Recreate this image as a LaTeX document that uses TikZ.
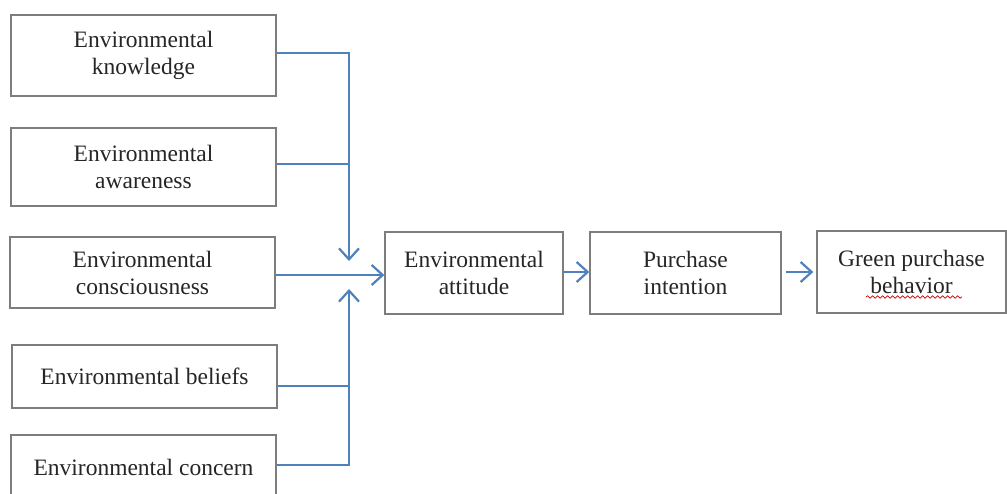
\documentclass[tikz,border=0pt]{standalone}
\usepackage{fontspec}
\setmainfont{Liberation Serif}
\usetikzlibrary{arrows.meta,decorations.pathmorphing}
\definecolor{lineblue}{RGB}{79,129,189}
\definecolor{boxgray}{RGB}{125,125,125}
\begin{document}
\begin{tikzpicture}[x=1pt,y=-1pt,
  box/.style={draw=boxgray,line width=1.4pt,fill=white,align=center,inner sep=0pt,
     font=\fontsize{23.5}{27}\selectfont,text=black!85},
  conn/.style={draw=lineblue,line width=2.4pt},
  tip/.style={-{Straight Barb[length=11pt,width=20pt,line width=2.2pt]}}]
\useasboundingbox (0,0) rectangle (1007,494);
\clip (0,0) rectangle (1007,494);
\fill[white] (0,0) rectangle (1007,494);
% left boxes
\node[box,minimum width=265pt,minimum height=81pt] (b1) at (143.5,55.5) {Environmental\\knowledge};
\node[box,minimum width=265pt,minimum height=78pt] (b2) at (143.5,167) {Environmental\\awareness};
\node[box,minimum width=265pt,minimum height=71pt] (b3) at (142.5,272.5) {Environmental\\consciousness};
\node[box,minimum width=265pt,minimum height=63pt] (b4) at (144.5,376.5) {Environmental beliefs};
\node[box,minimum width=265pt,minimum height=64pt] (b5) at (143.5,467) {Environmental concern};
% chain boxes
\node[box,minimum width=178pt,minimum height=82pt] (ea) at (474,273) {Environmental\\attitude};
\node[box,minimum width=191pt,minimum height=82pt] (pi) at (685.5,273) {Purchase\\intention};
\node[box,minimum width=189pt,minimum height=82pt] (gp) at (911.5,272) {Green purchase\\behavior};
% junction coordinates
\coordinate (jt) at (349,261);
\coordinate (jb) at (349,289);
% connectors
\draw[conn,tip] ([yshift=2.5pt]b1.east) -| (jt);
\draw[lineblue,line width=1.2pt] ([yshift=3pt]b2.east) -- ([yshift=3pt]b2.east -| jt);
\draw[conn,tip] ([yshift=-2.5pt]b3.east) -- ([yshift=-2.5pt]b3.east -| ea.west);
\draw[lineblue,line width=1.6pt] ([yshift=-9.5pt]b4.east) -- ([yshift=-9.5pt]b4.east -| jb);
\draw[conn,tip] ([yshift=2pt]b5.east) -| (jb);
\draw[conn,tip] ([yshift=1pt]ea.east) -- ([yshift=1pt]ea.east -| pi.west);
\draw[conn,tip] ([xshift=4pt,yshift=1pt]pi.east) -- ([xshift=-3pt,yshift=1pt]pi.east -| gp.west);
% spell-check squiggle
\draw[red!80!black,line width=0.7pt,decorate,decoration={snake,amplitude=1.2pt,segment length=5pt}]
  (866,297) -- (962,297);
\end{tikzpicture}
\end{document}
